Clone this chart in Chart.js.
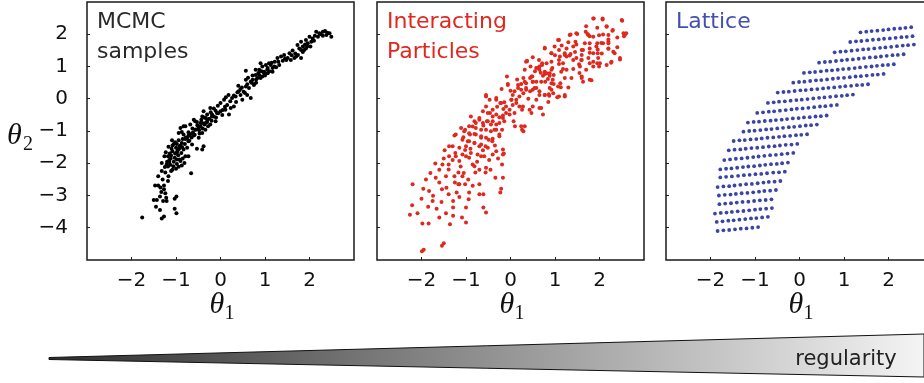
<!DOCTYPE html>
<html>
<head>
<meta charset="utf-8">
<script src="https://cdn.jsdelivr.net/npm/chart.js@4"></script>
<style>
  body { margin: 0; background: #fff; overflow: hidden; }
  #wrap { position: relative; width: 924px; height: 383px; overflow: hidden; }
  canvas { position: absolute; }
</style>
</head>
<body>
<div id="wrap">
  <canvas id="c1" width="360" height="335" style="left:0;top:0"></canvas>
  <canvas id="c2" width="360" height="335" style="left:290px;top:0"></canvas>
  <canvas id="c3" width="360" height="335" style="left:579px;top:0"></canvas>
  <canvas id="wedge" width="924" height="63" style="left:0;top:320px"></canvas>
</div>
<script>
// axes
const xTickValues = [-2, -1, 0, 1, 2];
const yTickValues = [-4, -3, -2, -1, 0, 1, 2];

// MCMC samples [theta1, theta2]
const mcmcPoints = [
  [-1.76,-3.68],[-1.32,-3.71],[-1.27,-3.65],[-1.36,-3.45],[-1.03,-3.41],[-0.99,-3.55],
  [-1.50,-3.14],[-1.43,-3.14],[-1.29,-3.17],[-1.21,-3.17],[-1.03,-3.10],[-0.99,-3.03],[-1.36,-3.03],[-1.22,-3.07],
  [-1.47,-2.69],[-1.40,-2.69],[-1.27,-2.69],[-1.27,-2.81],[-1.24,-2.93],[-1.33,-2.89],
  [-1.40,-2.40],[-1.32,-2.24],[-1.24,-2.29],[-1.17,-2.40],[-1.11,-2.24],[-0.66,-2.31],
  [-1.21,-2.04],[-1.15,-1.96],[-1.32,-1.99],[-1.06,-2.09],[-1.00,-2.17],[-0.94,-2.11],[-0.87,-2.07],[-0.81,-1.99],[-0.90,-1.93],
  [-1.26,-1.78],[-1.18,-1.78],[-1.11,-1.76],[-1.03,-1.83],[-0.98,-1.88],
  [-1.23,-1.66],[-1.08,-1.63],[-0.98,-1.66],[-0.88,-1.68],[-0.79,-1.78],
  [-1.17,-1.49],[-1.08,-1.45],[-1.00,-1.52],[-0.93,-1.55],[-0.83,-1.57],[-0.75,-1.52],[-0.72,-1.78],
  [-1.09,-1.29],[-1.02,-1.35],[-0.94,-1.29],[-0.87,-1.37],[-0.79,-1.25],[-0.72,-1.32],[-0.64,-1.42],
  [-0.53,-1.55],[-0.41,-1.57],[-0.38,-1.47],[-0.94,-1.06],[-0.83,-1.11],[-0.72,-1.04],
  [-0.60,-1.14],[-0.49,-1.21],[-0.57,-0.96],[-0.79,-0.85],[-0.68,-0.80],[-0.49,-0.90],
  [-0.41,-1.06],[-0.34,-0.96],[-0.41,-0.75],[-0.30,-0.65],[-0.19,-0.55],[-0.08,-0.44],[0.00,-0.39],
  [-0.57,-0.70],[-0.23,-0.80],[-0.11,-0.70],
  [-0.90,-0.91],[-0.83,-0.85],[-0.87,-1.03],[-0.60,-0.65],[-0.53,-0.72],
  [-0.41,-0.55],[-0.38,-0.39],[-0.30,-0.49],[-0.23,-0.29],[-0.45,-0.75],[-0.34,-0.75],
  [-0.19,-0.49],[-0.11,-0.37],[0.00,-0.13],[0.08,-0.03],[0.15,-0.19],[0.19,-0.49],[0.23,-0.29],
  [0.26,0.02],[0.34,0.07],[0.41,0.23],[0.45,0.12],[0.49,-0.03],
  [0.57,0.38],[0.64,0.33],[0.57,0.59],[0.68,0.53],[0.75,0.45],
  [0.83,0.64],[0.87,0.74],[0.94,0.69],[0.98,0.84],
  [1.02,1.05],[1.06,0.95],[1.09,1.10],[1.17,0.95],[1.21,1.00],
  [0.90,1.10],[0.79,0.90],[1.28,1.26],[1.32,1.05],[0.30,-0.24],[0.11,-0.34],[0.60,0.12],[0.68,0.02],[0.57,0.87],
  [0.72,0.59],[0.79,0.74],[0.87,0.90],[0.75,0.43],
  [0.94,1.00],[1.13,1.05],[0.98,0.79],
  [0.90,0.64],[1.06,0.79],[1.17,0.84],
  [1.36,1.31],[1.43,1.36],[1.51,1.26],[1.55,1.41],[1.58,1.20],[1.66,1.26],[1.70,1.31],[1.81,1.26],
  [1.73,1.67],[1.81,1.77],[1.85,1.62],[1.92,1.82],[1.96,1.72],[2.00,1.92],[1.88,1.51],
  [1.77,1.56],[1.92,1.56],[2.04,1.77],
  [2.15,2.08],[2.22,2.03],[2.30,2.08],[2.38,1.98],[2.45,2.03],[2.49,1.92],[2.19,1.92],[2.07,1.87],[1.81,1.51],
  [-0.62,-1.05],[-0.55,-0.95],[-0.48,-0.98],[-0.45,-0.85],[-0.36,-0.80],[-0.30,-0.72],[-0.25,-0.62],[-0.20,-0.68],
  [-0.15,-0.55],[-0.10,-0.58],[-0.05,-0.45],[0.05,-0.35],[0.10,-0.25],[-0.72,-1.15],[-0.78,-1.20],[-0.85,-1.25],
  [-0.90,-1.45],[-0.96,-1.60],[-1.02,-1.70],[-1.12,-1.85],[-1.15,-1.90],[-1.05,-1.95],[-0.98,-2.02],[-1.18,-2.10],
  [-1.08,-2.20],[-0.92,-1.88],[-0.70,-1.30],[-0.65,-1.20],[-0.58,-1.12],[-0.40,-0.92],[-0.33,-0.60],
  [0.30,0.10],[0.38,0.20],[0.45,0.30],[0.52,0.22],[0.60,0.45],[0.70,0.50],[0.80,0.60],[0.85,0.80],
  [1.10,0.85],[1.25,0.98],[1.40,1.18],[1.45,1.25],[1.60,1.35],[1.85,1.45],[1.95,1.62],[2.10,1.80],
  [2.30,1.95],[2.40,2.05],[2.25,2.00],
  [-1.10,-1.55],[-1.05,-1.40],[-0.98,-1.40],[-0.92,-1.48],[-0.86,-1.50],[-0.80,-1.40],[-0.75,-1.22],[-0.68,-1.10],
  [-0.63,-0.92],[-0.52,-0.82],[-0.47,-1.08],[-0.43,-0.65],[-0.36,-0.58],[-0.28,-0.85],[-0.22,-0.42],[-0.15,-0.30],
  [-0.06,-0.22],[0.04,-0.50],[0.12,0.05],[0.18,0.12],[0.22,-0.08],[0.35,-0.10],[0.40,0.40],[0.48,0.35],
  [0.55,0.18],[0.62,0.65],[0.72,0.72],[0.80,0.50],[0.92,0.85],[1.00,0.72],[1.05,0.90],[1.15,1.12],
  [1.22,1.15],[1.30,1.15],[1.48,1.20],[1.62,1.50],[1.68,1.40],[1.74,1.36],[1.90,1.68],[2.02,1.62],
  [2.12,1.95],[2.35,2.10],[-1.14,-1.70],[-1.20,-1.95],[-1.25,-2.12],[-1.13,-2.05],[-0.95,-1.75],[-0.85,-1.85],
  [-1.30,-2.50],[-1.18,-2.55],[-1.35,-2.75],[-1.45,-3.35]
];

// interacting particles [theta1, theta2]
const particlePoints = [
  [-1.99,-4.73],[-1.95,-4.68],[-1.54,-4.56],[-1.50,-4.48],
  [-2.26,-3.60],[-2.09,-3.55],[-1.98,-3.87],[-1.84,-3.87],
  [-2.21,-3.30],[-2.20,-2.65],[-1.96,-2.79],[-1.83,-2.86],[-1.90,-2.50],
  [-1.75,-3.17],[-1.66,-3.41],[-1.60,-3.68],[-1.74,-3.01],
  [-1.68,-2.45],[-1.60,-2.60],[-1.54,-2.81],[-1.44,-2.76],[-1.39,-2.96],
  [-1.69,-2.01],[-1.53,-2.04],[-1.39,-2.04],[-1.39,-2.19],[-1.26,-2.40],
  [-1.36,-3.89],[-1.29,-3.63],[-1.29,-3.37],[-1.29,-3.17],[-1.21,-2.91],
  [-1.09,-3.68],[-1.00,-3.84],[-1.00,-3.37],[-0.94,-3.12],[-0.93,-2.91],
  [-1.17,-2.65],[-1.15,-2.65],[-1.02,-2.65],[-1.08,-2.40],[-1.17,-2.29],
  [-1.38,-1.78],[-1.24,-1.68],[-1.15,-1.93],[-1.00,-1.78],[-0.85,-2.04],
  [-1.38,-1.47],[-1.26,-1.14],[-1.06,-1.19],[-1.00,-1.47],[-0.93,-1.32],
  [-0.70,-2.96],[-0.61,-2.96],[-0.55,-3.53],[-0.61,-3.37],[-0.70,-2.65],
  [-0.79,-2.29],[-0.81,-2.09],[-0.56,-2.29],[-0.55,-2.14],[-0.66,-1.78],
  [-0.34,-2.45],[-0.21,-2.79],[-0.23,-2.91],[-0.17,-2.45],[-0.19,-2.04],[-0.15,-1.70],
  [-1.11,-0.91],[-1.02,-0.96],[-0.93,-1.07],[-0.85,-0.86],[-0.81,-1.09],
  [-0.89,-0.55],[-0.78,-0.75],[-0.70,-0.60],[-0.61,-0.83],[-0.53,-0.70],
  [-0.81,-1.37],[-0.70,-1.47],[-0.66,-1.21],[-0.56,-1.47],[-0.49,-1.27],
  [-0.41,-1.32],[-0.32,-0.96],[-0.25,-1.11],[-0.40,-0.70],[-0.46,-0.44],
  [-0.55,0.07],[-0.32,-0.03],[-0.21,-0.13],[-0.16,-0.32],[-0.10,-0.44],
  [0.02,-0.03],[0.05,0.12],[0.13,-0.03],[0.20,0.07],[0.28,-0.24],
  [0.07,-0.70],[0.24,-0.85],[0.29,-1.01],[-0.02,-0.49],[-0.17,-0.60],
  [0.17,0.33],[0.24,0.46],[0.35,0.48],[0.35,0.28],[0.44,0.64],
  [0.50,0.28],[0.58,0.53],[0.69,-0.29],[0.73,-0.49],[0.58,-0.03],
  [0.65,0.90],[0.71,1.05],[0.77,0.77],[0.84,0.61],[0.92,0.90],[0.92,0.48],
  [1.07,0.38],[1.12,0.48],[1.22,0.07],[1.09,0.07],[0.96,0.17],
  [0.35,1.15],[0.50,1.29],[0.77,1.56],[0.92,1.41],[0.99,1.62],
  [1.07,1.82],[1.11,1.31],[1.18,1.10],[1.26,0.90],[1.22,1.41],
  [1.33,1.98],[1.48,2.03],[1.41,1.62],[1.48,1.26],[1.56,1.00],
  [1.60,0.64],[1.78,0.59],[1.67,1.72],[1.75,1.98],[1.86,1.92],
  [1.86,2.49],[2.07,2.49],[2.16,2.23],[2.30,2.13],[2.50,2.44],[2.57,1.98],[2.54,2.03],
  [2.20,1.98],[2.20,1.77],[2.20,1.56],[2.08,1.72],[1.97,1.26],[2.01,1.10],
  [2.31,1.46],[2.46,1.26],[2.27,1.15],[2.16,1.05],[1.86,1.00],
  [1.60,1.20],[1.63,1.51],[1.78,1.10],[1.93,1.62],[1.86,1.41],
  [1.87,2.49],[2.07,2.46],[2.16,2.25],[2.51,2.42],[2.55,1.94],[2.60,2.03],[2.29,2.11],
  [1.35,1.99],[1.50,2.01],[1.69,2.08],[1.73,2.01],[1.78,1.94],[1.99,1.97],[2.08,1.99],
  [2.20,1.84],[2.20,1.72],[2.20,1.55],[1.95,1.72],[2.04,1.73],[1.78,1.72],[1.78,1.56],[1.78,1.43],
  [1.96,1.53],[1.96,1.41],[1.48,1.68],[1.46,1.77],[1.60,1.51],[1.60,1.36],[1.59,1.20],[1.54,1.07],
  [1.75,1.26],[1.86,1.15],[1.95,1.10],[1.99,1.00],[2.34,1.41],[2.46,1.22],[2.26,1.12],
  [1.26,1.56],[1.35,1.39],[1.41,1.20],[1.33,1.34],[1.22,1.36],[1.26,1.31],
  [1.09,1.82],[1.09,1.51],[1.09,1.20],[0.92,1.41],[0.77,1.58],
  [0.64,1.20],[0.65,1.00],[0.81,1.10],[0.92,1.15],[0.94,0.95],[1.09,1.08],
  [0.37,1.17],[0.32,0.90],[0.58,0.95],[0.68,0.81],[0.77,0.84],[0.88,0.79],[0.97,0.74],
  [1.14,0.84],[1.18,0.92],[1.22,0.64],[1.37,0.64],[1.41,0.92],[1.60,0.69],[1.63,0.53],[1.82,0.57],
  [0.29,0.64],[0.32,0.53],[0.49,0.69],[0.50,0.53],[0.69,0.53],[0.73,0.71],
  [0.78,0.53],[0.95,0.59],[0.97,0.46],[1.13,0.36],[1.05,0.05],[1.22,0.12],[0.92,0.28],
  [0.54,0.33],[0.65,0.12],[0.77,0.12],[0.87,0.09],[0.44,0.23],[0.35,0.33],
  [0.37,1.17],[0.59,0.95],[0.71,1.10],[0.81,0.79],[0.88,0.71],[0.88,0.33],
  [-0.08,0.69],[-0.06,0.46],[0.17,0.43],[0.09,0.23],[0.24,0.28],[0.29,0.17],
  [0.47,0.69],[0.50,0.53],[0.58,0.33],[0.65,0.23],[0.77,0.12],[0.86,0.14],
  [-0.55,0.12],[-0.47,-0.03],[-0.32,0.02],[-0.23,-0.13],[-0.14,-0.11],[-0.10,-0.24],
  [0.02,-0.03],[0.05,-0.19],[0.13,-0.13],[0.20,-0.24],[-0.02,-0.34],[0.09,-0.44],
  [0.26,-0.34],[0.43,-0.34],[0.50,-0.24],[0.65,-0.29],[0.47,-0.44],[0.26,-0.96],[0.32,-0.85],
  [-0.62,-0.39],[-0.51,-0.44],[-0.40,-0.34],[-0.32,-0.49],[-0.25,-0.57],[-0.17,-0.52],
  [-0.81,-0.70],[-0.70,-0.65],[-0.62,-0.75],[-0.51,-0.70],[-0.44,-0.80],[-0.32,-0.80],[-0.25,-0.75],[-0.14,-0.70],
  [-0.93,-0.85],[-0.78,-0.91],[-0.66,-0.96],[-0.55,-0.96],[-0.44,-1.01],[-0.36,-0.96],[-0.19,-0.96],
  [-1.04,-1.01],[-0.91,-1.11],[-0.78,-1.11],[-0.66,-1.16],[-0.55,-1.21],[-0.40,-1.24],[-0.25,-1.16],
  [-1.23,-1.11],[-1.08,-1.27],[-0.96,-1.32],[-0.81,-1.37],[-0.66,-1.42],[-0.51,-1.52],
  [-1.30,-1.47],[-1.15,-1.52],[-1.02,-1.59],[-0.89,-1.68],[-0.74,-1.73],[-0.59,-1.78],
  [-1.08,-1.73],[-0.93,-1.83],[-1.23,-1.78],[-0.40,-1.73],[-0.17,-1.73],
  [-0.06,0.43],[-0.55,-0.24],[-0.40,-0.55],[-0.32,-1.63],[-0.17,-1.57],
  [-1.60,-2.20],[-1.50,-1.85],[-1.45,-2.40],[-1.30,-1.90],[-1.25,-2.60],[-1.12,-2.10],[-1.05,-2.30],[-0.95,-2.50],
  [-0.90,-1.55],[-0.75,-1.95],[-0.70,-2.20],[-0.62,-1.60],[-0.48,-1.90],[-0.45,-2.20],[-0.35,-1.45],[-0.28,-1.85],
  [-1.48,-1.60],[-1.80,-2.30],[-2.00,-3.10],[-1.85,-3.35],[-1.55,-3.20],[-1.45,-3.55],[-1.15,-3.05],[-0.85,-2.70],
  [0.10,-0.85],[0.15,0.60],[0.00,0.25],[-0.20,0.30],[-0.30,-0.25],[0.40,0.00],[0.55,0.85],[0.45,1.00],
  [1.00,1.35],[1.15,1.65],[1.30,1.75],[1.45,1.45],[1.70,2.25],[1.95,2.20],[2.40,1.60],[2.40,1.90],
  [1.55,0.80],[1.70,0.90],[2.05,1.40],[1.30,0.35],[0.85,-0.10]
];

// lattice rows [theta1 values] and [theta2 values]
const latticeRowsX = [
  [1.37,1.50,1.62,1.75,1.88,2.00,2.13,2.26,2.38,2.51],
  [1.14,1.27,1.39,1.52,1.65,1.78,1.90,2.03,2.16,2.29,2.41,2.54],
  [0.79,0.92,1.04,1.17,1.30,1.43,1.55,1.68,1.81,1.93,2.06,2.19,2.32,2.44,2.57],
  [0.44,0.57,0.69,0.82,0.95,1.07,1.20,1.33,1.45,1.58,1.71,1.83,1.96,2.09,2.21,2.34],
  [0.10,0.23,0.35,0.48,0.61,0.73,0.86,0.98,1.11,1.24,1.36,1.49,1.62,1.74,1.87,1.99,2.12],
  [-0.14,-0.01,0.11,0.24,0.37,0.49,0.62,0.75,0.87,1.00,1.13,1.26,1.38,1.51,1.64,1.76,1.89],
  [-0.49,-0.36,-0.24,-0.11,0.02,0.14,0.27,0.40,0.53,0.65,0.78,0.91,1.03,1.16,1.29,1.41,1.54],
  [-0.71,-0.58,-0.46,-0.33,-0.20,-0.07,0.05,0.18,0.31,0.44,0.56,0.69,0.82,0.95,1.07,1.20],
  [-0.95,-0.82,-0.69,-0.57,-0.44,-0.31,-0.18,-0.06,0.07,0.20,0.33,0.46,0.58,0.71,0.84],
  [-1.16,-1.03,-0.91,-0.78,-0.65,-0.53,-0.40,-0.28,-0.15,-0.02,0.10,0.23,0.36,0.48,0.61],
  [-1.26,-1.13,-1.01,-0.88,-0.75,-0.63,-0.50,-0.37,-0.24,-0.12,0.01,0.14,0.26,0.39],
  [-1.48,-1.35,-1.23,-1.10,-0.97,-0.85,-0.72,-0.59,-0.46,-0.34,-0.21,-0.08,0.04,0.17],
  [-1.59,-1.46,-1.33,-1.21,-1.08,-0.95,-0.82,-0.69,-0.56,-0.44,-0.31,-0.18,-0.05],
  [-1.69,-1.56,-1.43,-1.30,-1.17,-1.04,-0.92,-0.79,-0.66,-0.53,-0.40,-0.27,-0.14],
  [-1.78,-1.65,-1.53,-1.40,-1.27,-1.15,-1.02,-0.89,-0.77,-0.64,-0.51,-0.39,-0.26],
  [-1.78,-1.65,-1.52,-1.38,-1.25,-1.12,-0.99,-0.86,-0.73,-0.59,-0.46,-0.33],
  [-1.84,-1.71,-1.58,-1.46,-1.33,-1.20,-1.07,-0.94,-0.81,-0.69,-0.56,-0.43],
  [-1.81,-1.68,-1.55,-1.43,-1.30,-1.17,-1.04,-0.91,-0.79,-0.66,-0.53],
  [-1.80,-1.67,-1.54,-1.41,-1.28,-1.15,-1.02,-0.89,-0.76,-0.63],
  [-1.90,-1.77,-1.64,-1.52,-1.39,-1.26,-1.13,-1.00,-0.88,-0.75,-0.62],
  [-1.86,-1.73,-1.60,-1.48,-1.35,-1.22,-1.09,-0.97,-0.84,-0.71],
  [-1.84,-1.71,-1.58,-1.45,-1.32,-1.19,-1.06,-0.93]
];
const latticeRowsY = [
  [2.06,2.08,2.10,2.11,2.13,2.15,2.17,2.18,2.20,2.22],
  [1.76,1.78,1.79,1.81,1.83,1.84,1.86,1.87,1.89,1.91,1.92,1.94],
  [1.44,1.46,1.47,1.49,1.51,1.53,1.54,1.56,1.58,1.59,1.61,1.63,1.65,1.66,1.68],
  [1.12,1.14,1.15,1.17,1.19,1.21,1.22,1.24,1.26,1.28,1.29,1.31,1.33,1.35,1.36,1.38],
  [0.80,0.82,0.83,0.85,0.87,0.88,0.90,0.92,0.93,0.95,0.97,0.99,1.00,1.02,1.04,1.05,1.07],
  [0.50,0.52,0.53,0.55,0.57,0.58,0.60,0.62,0.64,0.65,0.67,0.69,0.70,0.72,0.74,0.75,0.77],
  [0.19,0.21,0.22,0.24,0.26,0.27,0.29,0.30,0.32,0.34,0.35,0.37,0.39,0.40,0.42,0.43,0.45],
  [-0.13,-0.11,-0.09,-0.08,-0.06,-0.04,-0.03,-0.01,0.01,0.03,0.04,0.06,0.08,0.09,0.11,0.13],
  [-0.44,-0.42,-0.40,-0.39,-0.37,-0.35,-0.33,-0.31,-0.30,-0.28,-0.26,-0.24,-0.23,-0.21,-0.19],
  [-0.74,-0.72,-0.71,-0.69,-0.68,-0.66,-0.65,-0.63,-0.61,-0.60,-0.58,-0.57,-0.55,-0.54,-0.52],
  [-1.02,-1.00,-0.99,-0.97,-0.95,-0.94,-0.92,-0.90,-0.88,-0.87,-0.85,-0.83,-0.82,-0.80],
  [-1.31,-1.29,-1.28,-1.26,-1.25,-1.23,-1.21,-1.20,-1.18,-1.16,-1.15,-1.13,-1.12,-1.10],
  [-1.60,-1.58,-1.57,-1.55,-1.53,-1.52,-1.50,-1.48,-1.47,-1.45,-1.43,-1.42,-1.40],
  [-1.90,-1.88,-1.86,-1.85,-1.83,-1.81,-1.79,-1.77,-1.75,-1.74,-1.72,-1.70,-1.68],
  [-2.19,-2.17,-2.16,-2.14,-2.12,-2.10,-2.09,-2.07,-2.05,-2.03,-2.02,-2.00,-1.98],
  [-2.44,-2.42,-2.41,-2.39,-2.37,-2.36,-2.34,-2.33,-2.31,-2.29,-2.28,-2.26],
  [-2.74,-2.72,-2.71,-2.69,-2.67,-2.65,-2.64,-2.62,-2.60,-2.58,-2.57,-2.55],
  [-3.00,-2.98,-2.97,-2.95,-2.93,-2.92,-2.90,-2.88,-2.86,-2.85,-2.83],
  [-3.27,-3.25,-3.24,-3.22,-3.20,-3.19,-3.17,-3.15,-3.14,-3.12],
  [-3.56,-3.54,-3.53,-3.51,-3.49,-3.48,-3.46,-3.44,-3.42,-3.41,-3.39],
  [-3.82,-3.80,-3.78,-3.77,-3.75,-3.73,-3.71,-3.70,-3.68,-3.66],
  [-4.10,-4.08,-4.07,-4.05,-4.03,-4.02,-4.00,-3.98]
];

const fmt = v => (v < 0 ? '\u2212' + Math.abs(v) : String(v));

// frame, panel title and theta labels
const panelDecor = {
  id: 'panelDecor',
  afterDraw(chart, args, opts) {
    const ctx = chart.ctx;
    const ca = chart.chartArea;
    ctx.save();
    ctx.strokeStyle = '#1a1a1a';
    ctx.lineWidth = 1.5;
    ctx.strokeRect(ca.left, ca.top, ca.right - ca.left, ca.bottom - ca.top);

    ctx.fillStyle = opts.color;
    ctx.font = '22px "DejaVu Sans"';
    ctx.textBaseline = 'alphabetic';
    ctx.textAlign = 'left';
    opts.lines.forEach((t, i) => ctx.fillText(t, ca.left + 10, ca.top + 26 + i * 30));

    // theta_1 under the x axis
    const cx = chart.scales.x.getPixelForValue(0);
    ctx.fillStyle = '#111';
    ctx.font = 'italic 30px "Liberation Serif"';
    ctx.fillText('\u03b8', cx - 11, ca.bottom + 53);
    ctx.font = '20px "Liberation Serif"';
    ctx.fillText('1', cx + 4, ca.bottom + 59);

    if (opts.theta2) {
      ctx.font = 'italic 30px "Liberation Serif"';
      ctx.fillText('\u03b8', 7, 144);
      ctx.font = '20px "Liberation Serif"';
      ctx.fillText('2', 23, 150);
    }
    ctx.restore();
  }
};

function makePanel(id, points, color, radius, lines, labelColor, showY) {
  return new Chart(document.getElementById(id), {
    type: 'scatter',
    data: {
      datasets: [{
        data: points.map(p => ({ x: p[0], y: p[1] })),
        backgroundColor: color,
        pointRadius: radius,
        pointBorderWidth: 0
      }]
    },
    options: {
      responsive: false,
      animation: false,
      layout: { autoPadding: false, padding: { top: 2, right: 6, left: 0, bottom: 0 } },
      plugins: {
        legend: { display: false },
        tooltip: { enabled: false },
        panelDecor: { lines: lines, color: labelColor, theta2: showY }
      },
      scales: {
        x: {
          type: 'linear', min: -3, max: 3,
          afterBuildTicks: s => { s.ticks = xTickValues.map(v => ({ value: v })); },
          afterFit: s => { s.height = 75; s.paddingLeft = 0; s.paddingRight = 0; },
          border: { display: false },
          grid: { drawOnChartArea: false, drawTicks: true, tickLength: -3, color: '#222', lineWidth: 1 },
          ticks: { padding: 12, color: '#111', font: { family: 'DejaVu Sans', size: 20 }, callback: v => fmt(v) }
        },
        y: {
          type: 'linear', min: -5, max: 3,
          afterBuildTicks: s => { s.ticks = yTickValues.map(v => ({ value: v })); },
          afterFit: s => { s.width = 87; s.paddingTop = 0; s.paddingBottom = 0; },
          border: { display: false },
          grid: { drawOnChartArea: false, drawTicks: true, tickLength: -3, color: '#222', lineWidth: 1 },
          ticks: { padding: 22, color: '#111', font: { family: 'DejaVu Sans', size: 20 }, callback: v => (showY ? fmt(v) : '') }
        }
      }
    },
    plugins: [panelDecor]
  });
}

makePanel('c1', mcmcPoints, '#000000', 2.0, ['MCMC', 'samples'], '#2a2a2a', true);
makePanel('c2', particlePoints, '#e0281f', 2.0, ['Interacting', 'Particles'], '#e0281f', false);

const latticePoints = [];
latticeRowsX.forEach((row, r) => row.forEach((x, i) => latticePoints.push([x, latticeRowsY[r][i]])));
makePanel('c3', latticePoints, '#3a44a6', 1.9, ['Lattice'], '#4450b0', false);

// regularity wedge
const wc = document.getElementById('wedge').getContext('2d');
const grad = wc.createLinearGradient(49, 0, 924, 0);
grad.addColorStop(0, '#2e2e2e');
grad.addColorStop(1, '#f4f4f4');
wc.beginPath();
wc.moveTo(49, 37.5);
wc.lineTo(924, 14);
wc.lineTo(924, 57);
wc.lineTo(49, 39.5);
wc.closePath();
wc.fillStyle = grad;
wc.fill();
wc.strokeStyle = '#111';
wc.lineWidth = 1;
wc.stroke();
wc.fillStyle = '#222';
wc.font = '21px "DejaVu Sans"';
wc.textAlign = 'center';
wc.fillText('regularity', 846, 45);
</script>
</body>
</html>
